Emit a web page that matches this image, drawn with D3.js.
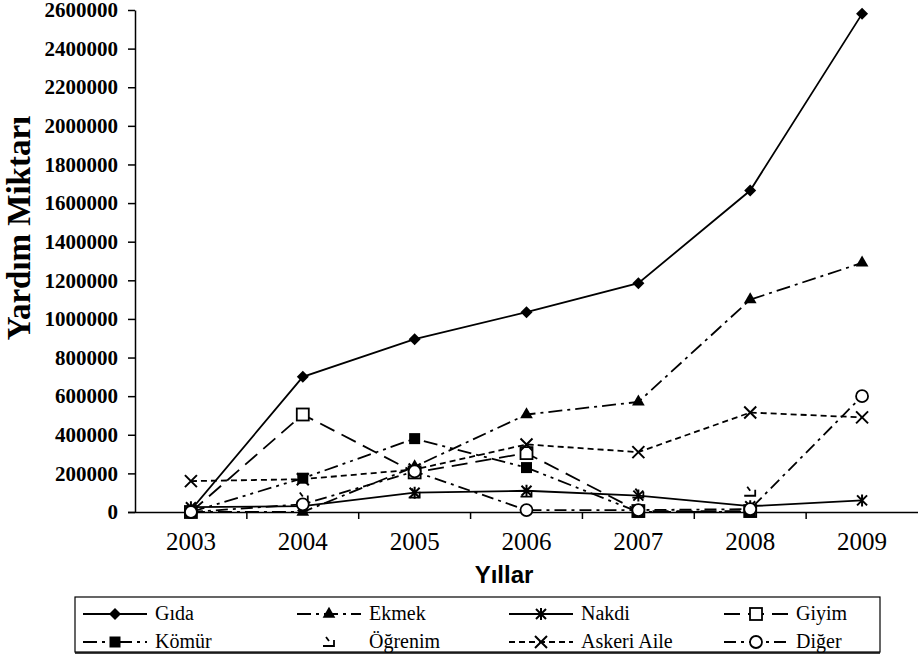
<!DOCTYPE html>
<html lang="tr">
<head>
<meta charset="UTF-8">
<title>Yardım Miktarı</title>
<script src="https://cdn.jsdelivr.net/npm/d3@7"></script>
<style>
    body { margin:0; background:#fff; }
    .tick line, .domain { stroke:#000; stroke-width:1.5px; }
</style>
</head>
<body>
<svg width="918" height="659"></svg>
<script>
    // veriler
    var years   = ['2003','2004','2005','2006','2007','2008','2009'];
    var gida    = [10000, 700000, 895000, 1035000, 1185000, 1665000, 2580000];
    var ekmek   = [0, 0, 235000, 505000, 570000, 1100000, 1290000];
    var nakdi   = [25000, 30000, 100000, 110000, 85000, 30000, 60000];
    var giyim   = [0, 505000, 205000, 305000, 5000, 5000, null];
    var komur   = [0, 175000, 380000, 230000, 0, 0, null];
    var ogrenim = [10000, 75000, 95000, 100000, 95000, 105000, null];
    var askeri  = [160000, 170000, 220000, 350000, 310000, 515000, 490000];
    var diger   = [0, 40000, 210000, 10000, 10000, 15000, 600000];
    var yTicks  = [0,200000,400000,600000,800000,1000000,1200000,1400000,1600000,1800000,2000000,2200000,2400000,2600000];

    var series = [
        {name:'Gıda',        values:gida,    dash:null,               mark:'diamond'},
        {name:'Ekmek',       values:ekmek,   dash:'14,5,3,5',         mark:'triangle'},
        {name:'Nakdi',       values:nakdi,   dash:null,               mark:'asterisk'},
        {name:'Giyim',       values:giyim,   dash:'16,8',             mark:'square'},
        {name:'Kömür',       values:komur,   dash:'14,5,3,5,3,5',     mark:'fsquare'},
        {name:'Öğrenim',     values:ogrenim, dash:'none',             mark:'ogr'},
        {name:'Askeri Aile', values:askeri,  dash:'6,4',              mark:'x'},
        {name:'Diğer',       values:diger,   dash:'12,5,3,5',         mark:'circle'}
    ];

    var svg = d3.select('svg');
    var serif = '"Liberation Serif","DejaVu Serif",serif';

    var x = d3.scaleBand().domain(years).range([135, 918]);
    var y = d3.scaleLinear().domain([0, 2600000]).range([512, 10]);
    var cx = function(i){ return x(years[i]) + x.bandwidth()/2; };

    // eksenler
    var yAxis = svg.append('g')
        .attr('transform','translate(135,0)')
        .call(d3.axisLeft(y).tickValues(yTicks).tickFormat(d3.format('d')).tickSize(7).tickSizeOuter(0));
    yAxis.selectAll('text')
        .attr('x',-17)
        .style('font-family',serif).style('font-weight','bold').style('font-size','21px').attr('fill','#000');

    var xAxis = svg.append('g')
        .attr('transform','translate(0,512)')
        .call(d3.axisBottom(x).tickSize(0).tickSizeOuter(0));
    xAxis.select('.domain').attr('d','M128,0.5H918');
    xAxis.selectAll('text')
        .attr('y',20)
        .style('font-family',serif).style('font-size','25px').attr('fill','#000');
    // kategori sınırlarındaki çentikler
    xAxis.selectAll('line.sep')
        .data(years.slice(1))
        .enter().append('line')
        .attr('class','sep')
        .attr('x1',function(d){return x(d);}).attr('x2',function(d){return x(d);})
        .attr('y1',0).attr('y2',7)
        .attr('stroke','#000').attr('stroke-width',1.5);

    // eksen başlıkları
    svg.append('text')
        .attr('transform','translate(30,228) rotate(-90)')
        .attr('text-anchor','middle')
        .style('font-family',serif).style('font-weight','bold').style('font-size','33px')
        .text('Yardım Miktarı');
    svg.append('text')
        .attr('x',504).attr('y',583)
        .attr('text-anchor','middle')
        .style('font-family','Arial,"Liberation Sans",sans-serif').style('font-weight','bold').style('font-size','24px')
        .text('Yıllar');

    // işaretçiler
    function marker(sel, type){
        if(type==='diamond'){
            sel.append('path').attr('d','M0,-6L6,0L0,6L-6,0Z').attr('fill','#000');
        } else if(type==='triangle'){
            sel.append('path').attr('d',d3.symbol(d3.symbolTriangle,70)()).attr('fill','#000');
        } else if(type==='square'){
            sel.append('rect').attr('x',-6).attr('y',-6).attr('width',12).attr('height',12)
                .attr('fill','#fff').attr('stroke','#000').attr('stroke-width',1.8);
        } else if(type==='fsquare'){
            sel.append('rect').attr('x',-5.5).attr('y',-5.5).attr('width',11).attr('height',11).attr('fill','#000');
        } else if(type==='circle'){
            sel.append('circle').attr('r',6).attr('fill','#fff').attr('stroke','#000').attr('stroke-width',1.8);
        } else if(type==='x'){
            sel.append('path').attr('d','M-6,-6L6,6M-6,6L6,-6').attr('stroke','#000').attr('stroke-width',2).attr('fill','none');
        } else if(type==='asterisk'){
            sel.append('path').attr('d','M-5,-5L5,5M-5,5L5,-5M0,-6L0,6').attr('stroke','#000').attr('stroke-width',2).attr('fill','none');
        } else if(type==='ogr'){
            sel.append('path').attr('d','M-3,-5L0,-1M-6,4H5V-2').attr('stroke','#000').attr('stroke-width',1.8).attr('fill','none');
        }
    }

    var line = d3.line()
        .defined(function(d){return d != null;})
        .x(function(d,i){return cx(i);})
        .y(function(d){return y(d);});

    var plot = svg.append('g');
    series.forEach(function(s){
        var g = plot.append('g');
        if(s.dash !== 'none'){
            g.append('path')
                .attr('d', line(s.values))
                .attr('fill','none')
                .attr('stroke','#000')
                .attr('stroke-width',1.8)
                .attr('stroke-dasharray', s.dash);
        }
        g.selectAll('g.pt')
            .data(s.values.map(function(v,i){return {v:v,i:i};}).filter(function(d){return d.v != null;}))
            .enter().append('g')
            .attr('class','pt')
            .attr('transform',function(d){return 'translate('+cx(d.i)+','+y(d.v)+')';})
            .each(function(){ marker(d3.select(this), s.mark); });
    });

    // lejant
    var legend = svg.append('g');
    legend.append('rect')
        .attr('x',75).attr('y',597).attr('width',805).attr('height',55)
        .attr('fill','#fff').attr('stroke','#000').attr('stroke-width',1.2);
    legend.append('line')
        .attr('x1',75).attr('x2',880).attr('y1',653).attr('y2',653)
        .attr('stroke','#000').attr('stroke-width',1.5);
    var colX = [155, 369, 581, 796];
    var item = legend.selectAll('g.item')
        .data(series)
        .enter().append('g')
        .attr('class','item')
        .attr('transform',function(d,i){return 'translate('+colX[i%4]+','+(i<4?614:642)+')';});
    item.each(function(s){
        var g = d3.select(this);
        if(s.dash !== 'none'){
            g.append('line')
                .attr('x1',-72).attr('x2',-8).attr('y1',0).attr('y2',0)
                .attr('stroke','#000').attr('stroke-width',1.8)
                .attr('stroke-dasharray', s.dash);
        }
        marker(g.append('g').attr('transform','translate(-40,0)'), s.mark);
        g.append('text')
            .attr('x',0).attr('y',6)
            .style('font-family',serif).style('font-size','20px')
            .text(s.name);
    });
</script>
</body>
</html>
